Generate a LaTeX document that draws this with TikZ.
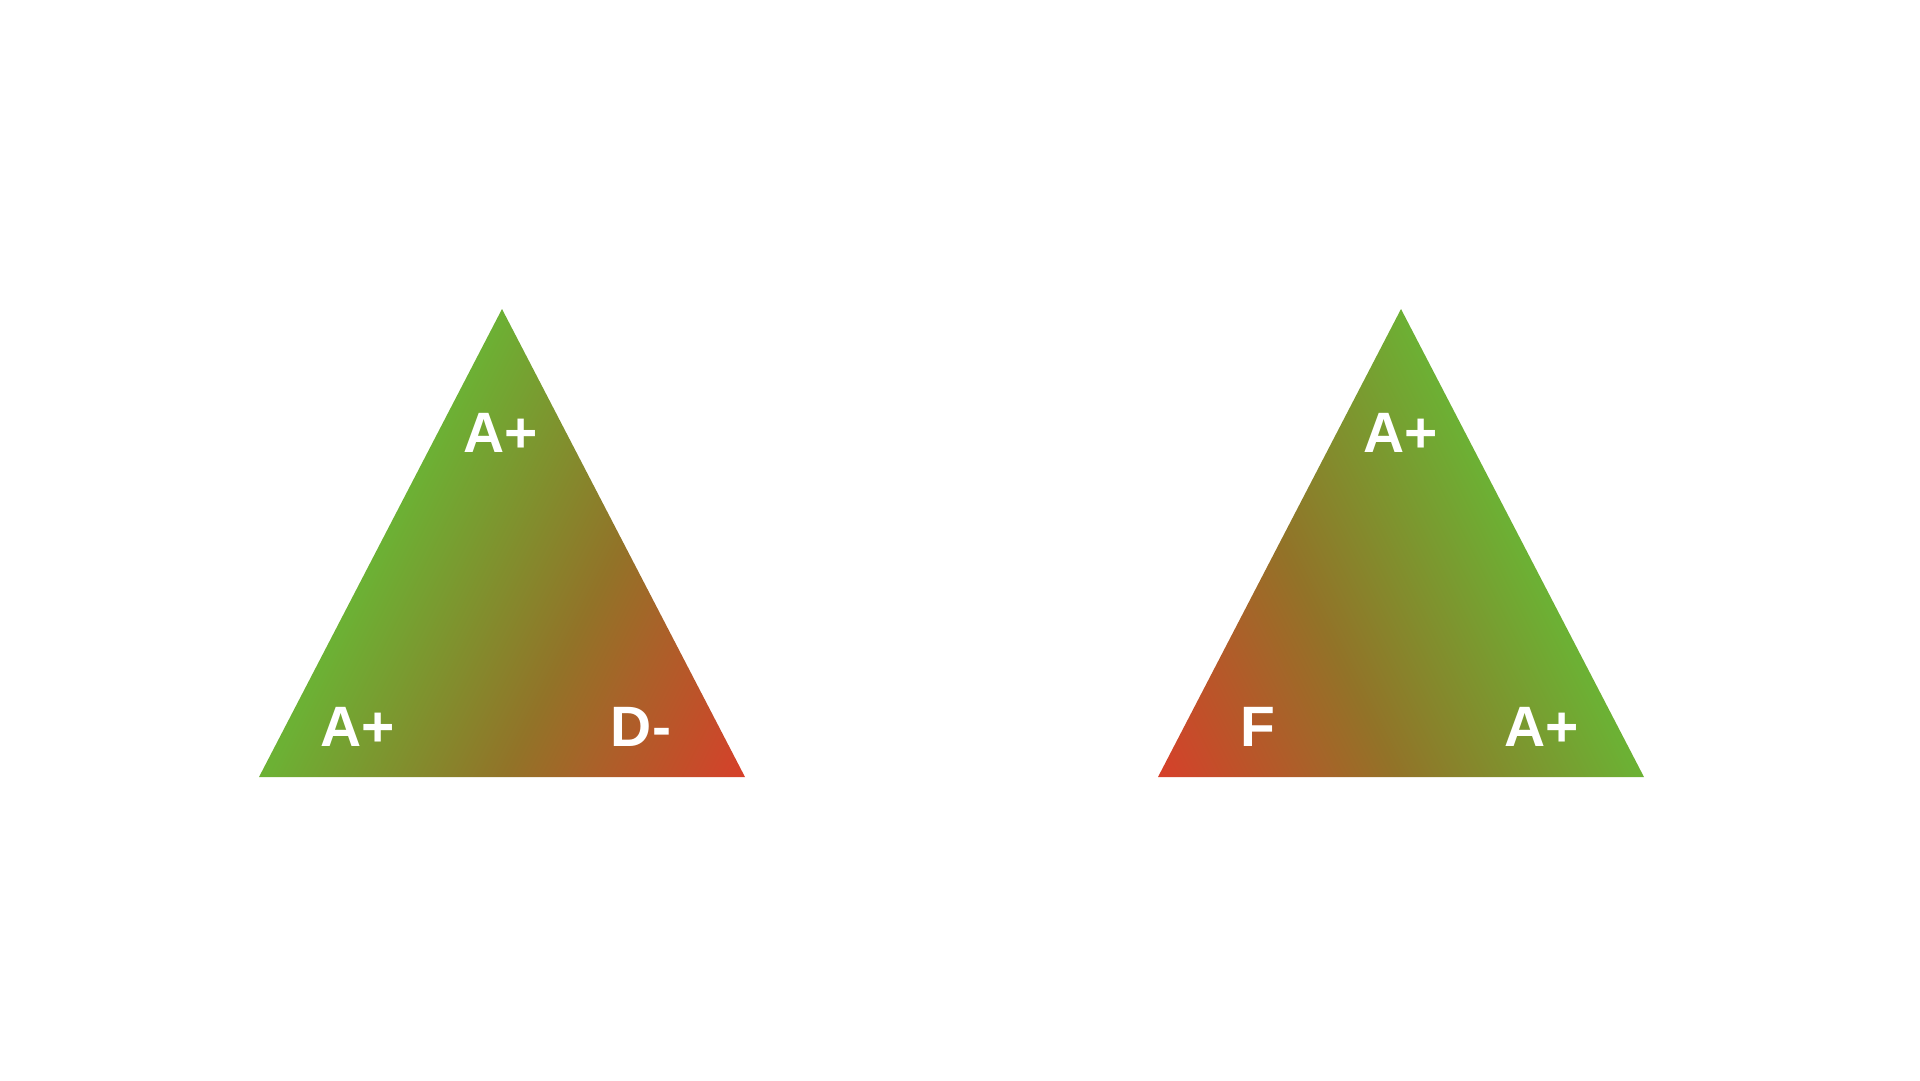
\documentclass[tikz,border=0pt]{standalone}
\usepackage{fontspec}
\setmainfont{Liberation Sans}
\definecolor{gradegreen}{HTML}{6CB134}
\definecolor{gradeolive}{HTML}{927328}
\definecolor{gradered}{HTML}{D6402A}
\pgfdeclareverticalshading{greenred}{100bp}{color(0bp)=(gradered); color(16.46bp)=(gradered); color(38.82bp)=(gradeolive); color(61.18bp)=(gradegreen); color(100bp)=(gradegreen)}
\begin{document}
\begin{tikzpicture}[x=0.1mm, y=-0.1mm, grade/.style={text=white, font=\fontsize{16.2}{19}\selectfont\bfseries, anchor=base, inner sep=0pt}]
	\useasboundingbox (0, 0) rectangle (1920, 1080);
	\shade[shading=greenred, shading angle=63.43] (259, 777) -- (745, 777) -- (502, 309) -- cycle;
	\shade[shading=greenred, shading angle=-63.43] (1158, 777) -- (1644, 777) -- (1401, 309) -- cycle;
	\node[grade] (topleft) at (501, 452) {A+};
	\node[grade] (baseleftA) at (358, 746) {A+};
	\node[grade] (baseleftD) at (641, 746) {D-};
	\node[grade] (topright) at (1401, 452) {A+};
	\node[grade] (baserightF) at (1258, 746) {F};
	\node[grade] (baserightA) at (1542, 746) {A+};
\end{tikzpicture}
\end{document}
